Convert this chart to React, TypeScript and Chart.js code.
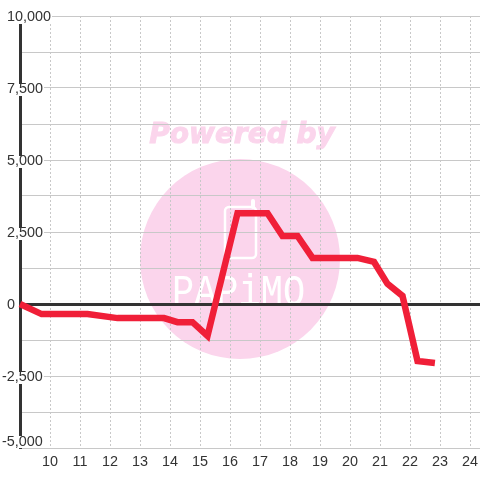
import React, { useEffect, useRef } from "react";
import { Chart, registerables } from "chart.js";

Chart.register(...registerables);

const hours = [9, 9.72, 10.25, 10.75, 11.25, 12.25, 12.75, 13.25, 13.8, 14.25, 14.75, 15.25, 16.25, 16.75, 17.25, 17.75, 18.25, 18.75, 19.25, 19.75, 20.25, 20.8, 21.25, 21.75, 22.25, 22.83];
const values = [0, -350, -350, -350, -350, -490, -490, -490, -490, -630, -630, -1110, 3150, 3150, 3150, 2360, 2360, 1600, 1600, 1600, 1600, 1460, 700, 280, -1980, -2050];
const xTickMin = 9;
const xMax = 24.333;
const yMin = -5000;
const yMax = 10000;
const yStep = 1250;
const labelStep = 2500;

const GRID = "#c8c8c8";
const DARK = "#333333";
const RED = "#f01f38";
const PINK = "#fbd5ec";

const watermark = {
  id: "watermark",
  beforeDraw(chart: any) {
    const c = chart.ctx;
    c.save();
    c.fillStyle = "#ffffff";
    c.fillRect(0, 0, 480, 480);
    c.fillStyle = PINK;
    c.beginPath();
    c.arc(240, 259, 100, 0, Math.PI * 2);
    c.fill();
    c.font = 'italic bold 28px "DejaVu Sans"';
    c.textAlign = "center";
    c.textBaseline = "middle";
    c.strokeStyle = PINK;
    c.lineWidth = 1;
    c.fillText("Powered by", 242, 136);
    c.strokeText("Powered by", 242, 136);
    c.strokeStyle = "#ffffff";
    c.lineWidth = 2.5;
    c.beginPath();
    c.roundRect(225, 207, 31, 51, 4);
    c.stroke();
    c.lineCap = "round";
    c.lineWidth = 4;
    c.beginPath();
    c.moveTo(253, 207);
    c.lineTo(253, 201);
    c.stroke();
    c.fillStyle = "#ffffff";
    c.translate(172, 305);
    c.scale(0.84, 1);
    c.font = '44px "Liberation Mono"';
    c.textAlign = "left";
    c.textBaseline = "alphabetic";
    c.fillText("PAPiMO", 0, 0);
    c.restore();
  },
};

const placeLabels = {
  id: "placeLabels",
  afterLayout(chart: any) {
    const y = chart.scales.y;
    const c = chart.ctx;
    c.save();
    c.font = '14.4px "Liberation Sans"';
    y.getLabelItems().forEach((item: any) => {
      const raw = item.label as string;
      if (!raw) {
        item.options.backdrop = undefined;
        return;
      }
      const tickY = item.options.translation[1];
      let centre = tickY + 1;
      let top = tickY - 4;
      if (raw === "-5,000") {
        centre = tickY - 6;
        top = tickY - 12;
      }
      const left = raw.startsWith("-") ? 2 : 7;
      item.options.translation[0] = left;
      item.options.translation[1] = centre;
      item.options.textAlign = "left";
      const width = c.measureText(raw).width;
      item.options.backdrop = { left: -left, top: top - centre, width: left + width + 1, height: 12, color: "#ffffff" };
    });
    c.restore();
  },
};

export default function App() {
  const ref = useRef<HTMLCanvasElement | null>(null);
  useEffect(() => {
    const chart = new Chart(ref.current as HTMLCanvasElement, {
      type: "line",
      data: {
        datasets: [
          {
            data: hours.map((h, i) => ({ x: h, y: values[i] })),
            borderColor: RED,
            borderWidth: 6.5,
            pointRadius: 0,
            tension: 0,
            fill: false,
            clip: false,
            borderJoinStyle: "miter",
            borderCapStyle: "butt",
          },
        ],
      },
      options: {
        animation: false,
        responsive: false,
        layout: { padding: { top: 16, right: 0, left: 0, bottom: 0 } },
        plugins: { legend: { display: false }, tooltip: { enabled: false }, title: { display: false } },
        scales: {
          x: {
            type: "linear",
            min: xTickMin,
            max: xMax,
            afterFit: (s: any) => {
              s.height = 32;
              s.paddingLeft = 0;
              s.paddingRight = 0;
            },
            grid: {
              color: (ctx: any) => (ctx.tick && ctx.tick.value === xTickMin ? "transparent" : GRID),
              lineWidth: 1,
              drawTicks: false,
            },
            border: { display: false, dash: [2, 2] },
            ticks: {
              stepSize: 1,
              autoSkip: false,
              includeBounds: false,
              maxRotation: 0,
              padding: 5,
              color: DARK,
              font: { family: "Liberation Sans", size: 14.4 },
              callback: (v: any) => (v === xTickMin ? "" : String(v)),
            },
          },
          y: {
            type: "linear",
            min: yMin,
            max: yMax,
            afterFit: (s: any) => {
              s.width = 20;
              s.paddingTop = 0;
              s.paddingBottom = 0;
            },
            grid: {
              color: (ctx: any) => (ctx.tick && ctx.tick.value === 0 ? DARK : GRID),
              lineWidth: (ctx: any) => (ctx.tick && ctx.tick.value === 0 ? 3 : 1),
              drawTicks: false,
            },
            border: { display: true, color: DARK, width: 3 },
            ticks: {
              stepSize: yStep,
              autoSkip: false,
              mirror: true,
              showLabelBackdrop: true,
              backdropColor: "#ffffff",
              color: DARK,
              font: { family: "Liberation Sans", size: 14.4 },
              callback: (v: any) => (v % labelStep === 0 ? Number(v).toLocaleString("en-US") : ""),
            },
          },
        },
      },
      plugins: [watermark, placeLabels],
    } as any);
    return () => chart.destroy();
  }, []);
  return <canvas ref={ref} width={480} height={480} style={{ position: "fixed", left: 0, top: 0, display: "block" }} />;
}
